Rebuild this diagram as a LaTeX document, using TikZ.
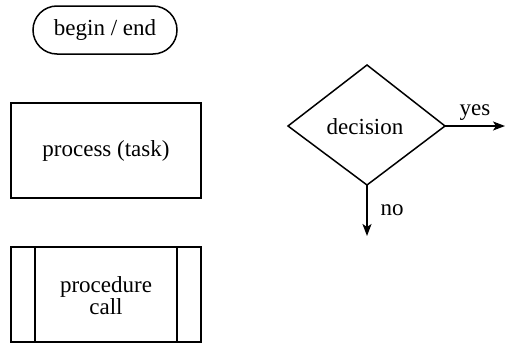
\documentclass[tikz,border=0pt]{standalone}
\usepackage{fontspec}
\setmainfont{Liberation Serif}
\usetikzlibrary{shapes.geometric,arrows.meta}
\begin{document}
\begin{tikzpicture}[x=1pt,y=-1pt,
  every node/.style={font=\fontsize{23}{24}\selectfont},
  shapeline/.style={draw=black,line width=1.5pt},
  flow/.style={line width=1.8pt,-{Stealth[length=12pt,width=9pt,inset=3pt]}},
  lbl/.style={inner sep=0pt}]
\useasboundingbox (0,0) rectangle (505,343);

% terminal: begin / end
\node[shapeline,rounded corners=24pt,minimum width=144pt,minimum height=48pt,inner sep=0pt]
  (term) at (105,30) {begin / end};

% process box
\node[shapeline,minimum width=190pt,minimum height=95pt,inner sep=0pt]
  (proc) at (106,150.5) {process (task)};

% procedure call box with side bars
\draw[shapeline] (11,247) rectangle (201,342);
\draw[shapeline] (35,247) -- (35,342);
\draw[shapeline] (177,247) -- (177,342);
\node[align=center,lbl] (call) at (106,296) {procedure\\[-2pt]call};

% decision diamond
\coordinate (dt) at (367,65);
\coordinate (dl) at (288,126);
\coordinate (dr) at (445,126);
\coordinate (db) at (367,185);
\draw[shapeline,line join=miter] (dt) -- (dr) -- (db) -- (dl) -- cycle;
\node[lbl] (dec) at (365,127) {decision};

\coordinate (yesend) at (505,126);
\coordinate (noend) at (367,236);
\draw[flow] (dr) -- (yesend);
\draw[flow] (db) -- (noend);
\node[lbl,anchor=base] (yes) at (475,115) {yes};
\node[lbl] (no) at (392,210) {no};
\end{tikzpicture}
\end{document}
